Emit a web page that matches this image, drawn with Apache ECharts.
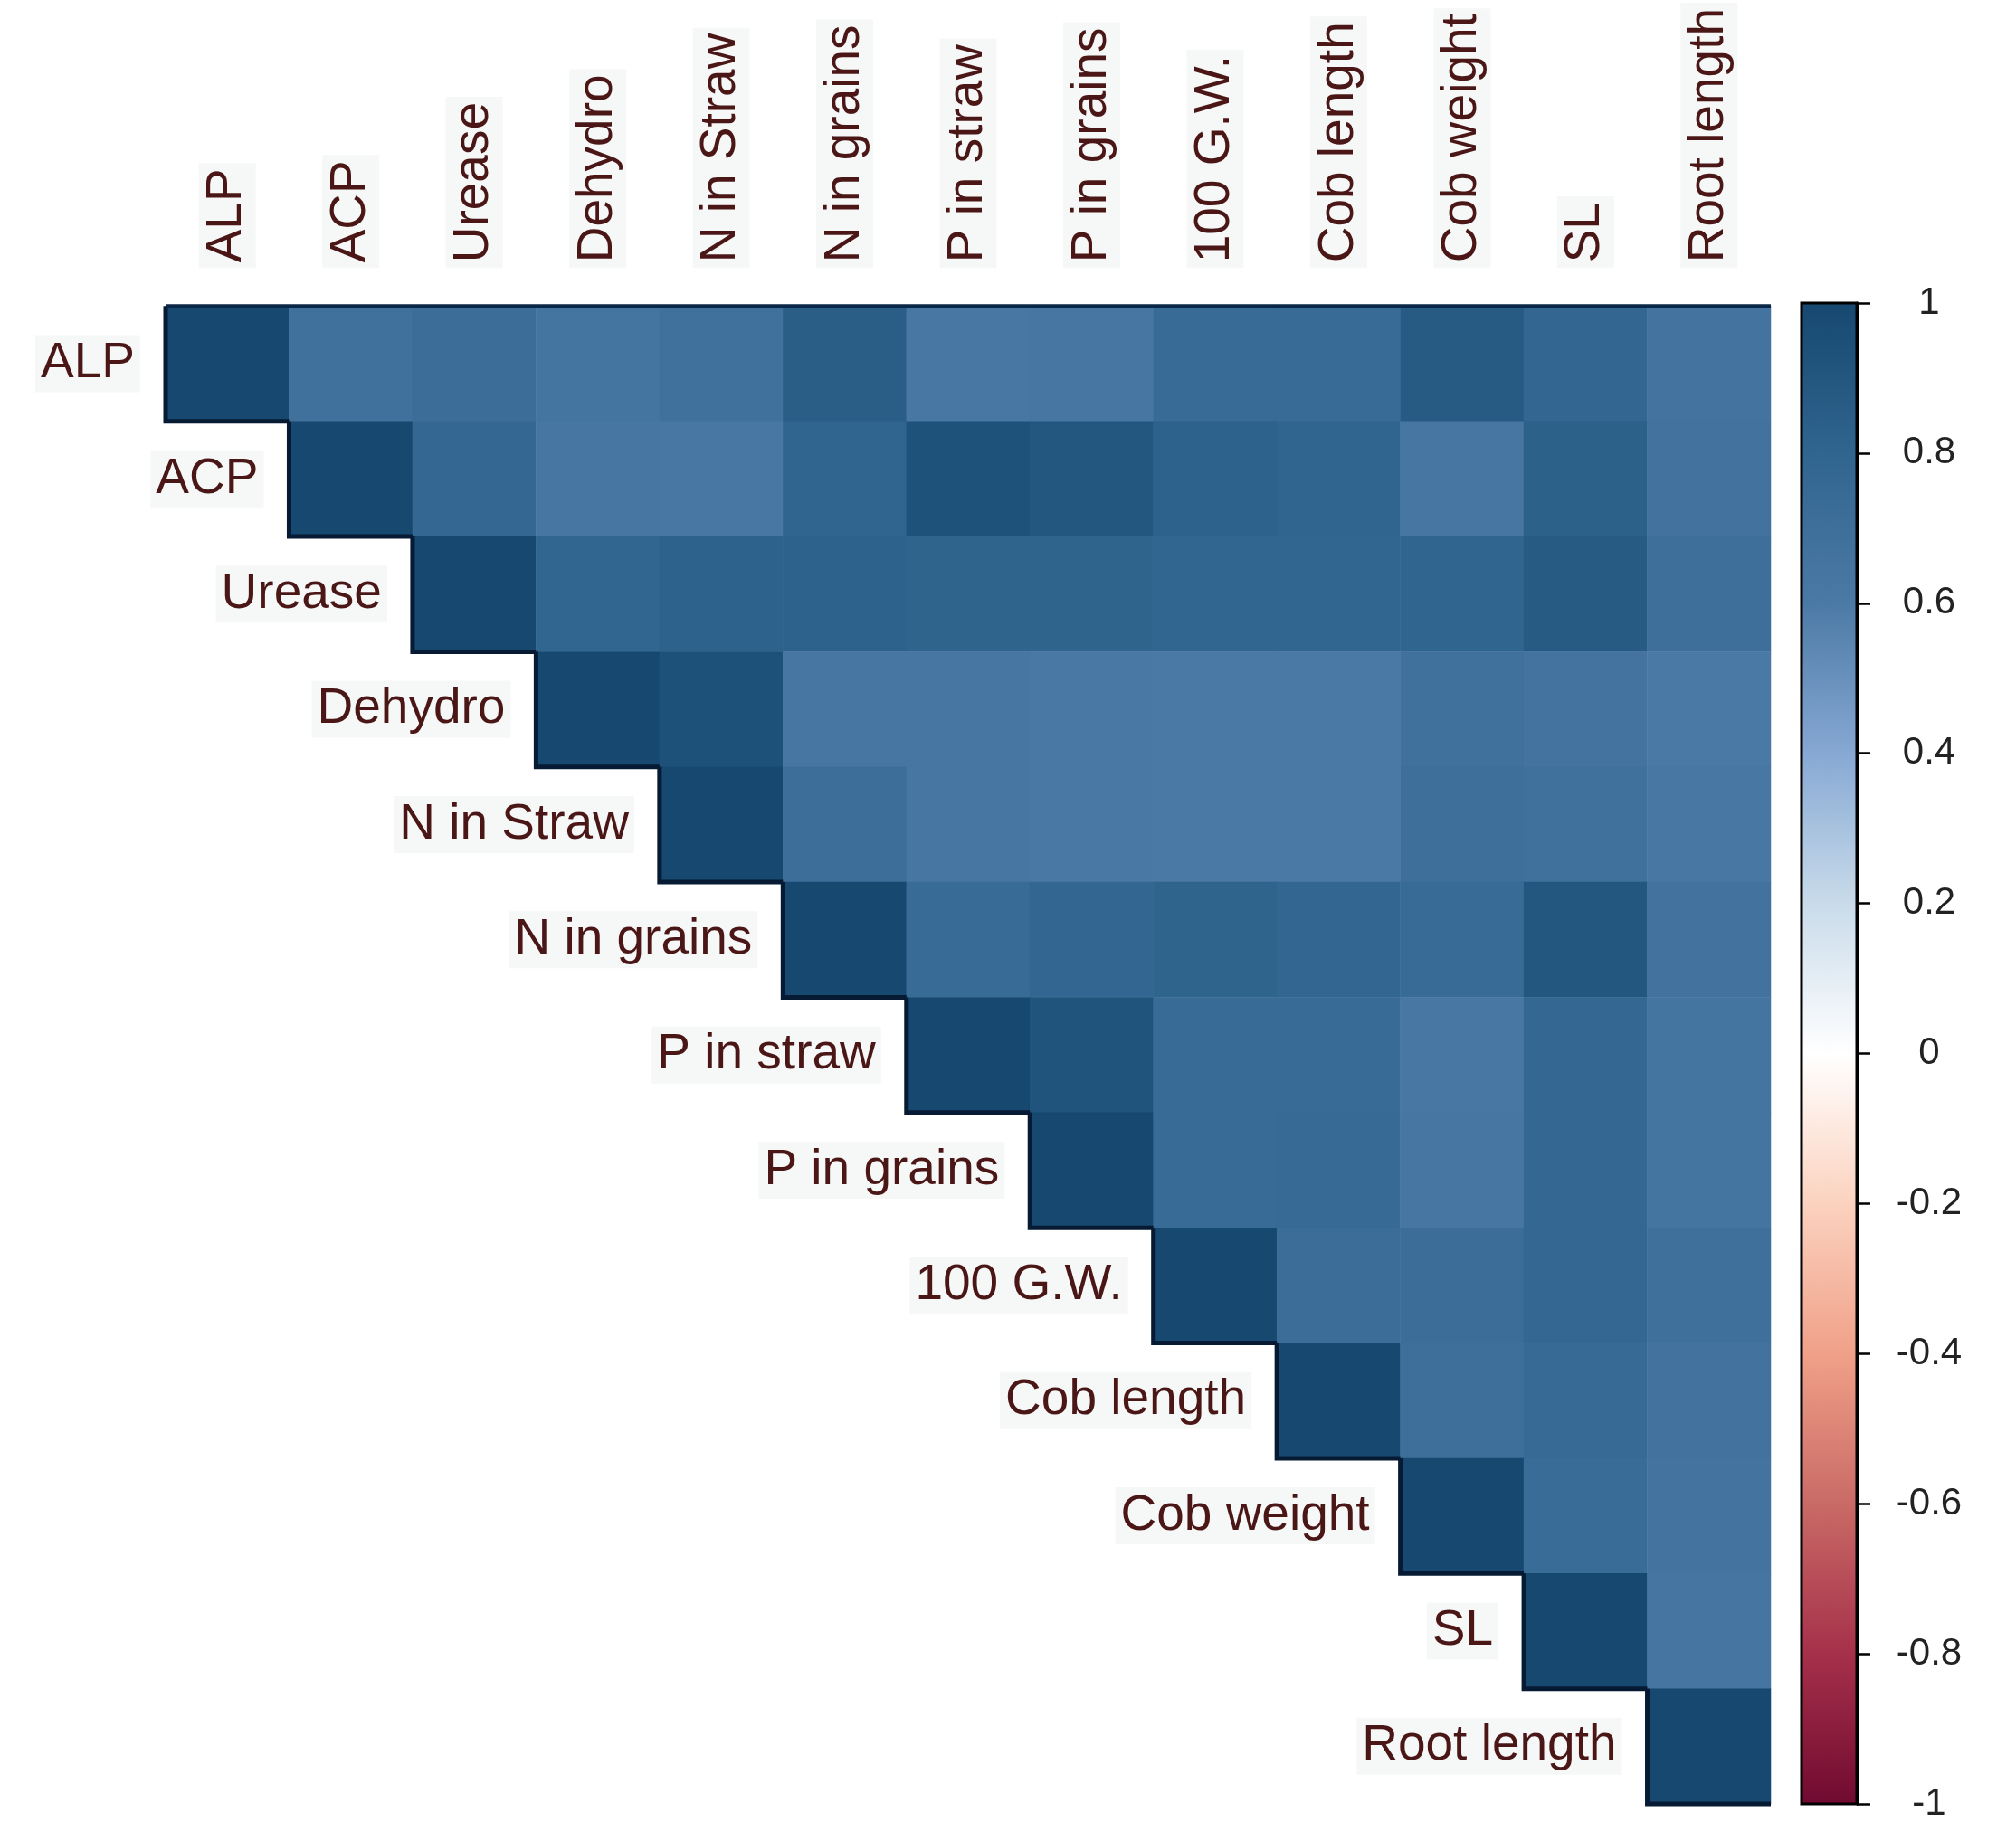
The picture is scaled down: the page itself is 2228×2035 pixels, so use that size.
<!DOCTYPE html>
<html>
<head>
<meta charset="utf-8">
<script src="https://cdn.jsdelivr.net/npm/echarts@6/dist/echarts.min.js"></script>
<style>
  html, body { margin: 0; padding: 0; background: #fff; }
  #chart { width: 2228px; height: 2035px; }
</style>
</head>
<body>
<div id="chart"></div>
<script>
var myChart = echarts.init(document.getElementById('chart'));

// variable names, same order for rows and columns
var vars = ['ALP', 'ACP', 'Urease', 'Dehydro', 'N in Straw', 'N in grains', 'P in straw',
            'P in grains', '100 G.W.', 'Cob length', 'Cob weight', 'SL', 'Root length'];

// upper triangle, each row starts at the diagonal
var rALP      = [1, 0.68, 0.72, 0.65, 0.68, 0.85, 0.62, 0.63, 0.74, 0.74, 0.87, 0.78, 0.66];
var rACP      = [1, 0.77, 0.63, 0.62, 0.80, 0.93, 0.90, 0.82, 0.80, 0.63, 0.83, 0.67];
var rUrease   = [1, 0.79, 0.82, 0.82, 0.81, 0.81, 0.79, 0.79, 0.80, 0.87, 0.70];
var rDehydro  = [1, 0.94, 0.63, 0.63, 0.61, 0.60, 0.60, 0.68, 0.66, 0.60];
var rNStraw   = [1, 0.71, 0.63, 0.61, 0.60, 0.60, 0.70, 0.68, 0.62];
var rNGrains  = [1, 0.74, 0.78, 0.81, 0.78, 0.74, 0.90, 0.67];
var rPStraw   = [1, 0.92, 0.74, 0.74, 0.62, 0.77, 0.65];
var rPGrains  = [1, 0.74, 0.75, 0.63, 0.77, 0.65];
var rGW       = [1, 0.72, 0.72, 0.77, 0.69];
var rCobLen   = [1, 0.70, 0.75, 0.67];
var rCobWt    = [1, 0.73, 0.66];
var rSL       = [1, 0.64];
var rRoot     = [1];

var rows = [rALP, rACP, rUrease, rDehydro, rNStraw, rNGrains, rPStraw,
            rPGrains, rGW, rCobLen, rCobWt, rSL, rRoot];

// colour scale from -1 to 1
var palette = ['#700a30', '#a5304a', '#c96a66', '#f0a088', '#fbd2bf', '#ffffff',
               '#c9dbea', '#86a8d3', '#4b79a5', '#30658f', '#164870'];
var cbMin = -1, cbMax = 1, cbStep = 0.2;

var font = "'Liberation Sans', Arial, sans-serif";
var labelCol = '#4a1616';
var labelBg = '#f6f7f7';

var cells = [];
rows.forEach(function (row, i) {
    row.forEach(function (v, k) {
        cells.push([i + k, i, v]);
    });
});

var diag = vars.map(function (name, i) { return [i, i, name]; });

var gradStops = palette.map(function (c, i) {
    return { offset: 1 - i / (palette.length - 1), color: c };
});

var option = {
    animation: false,
    backgroundColor: '#fff',
    grid: [
        { left: 183, top: 335, width: 1774, height: 1659 },
        { left: 1991, top: 335, width: 61, height: 1659 }
    ],
    xAxis: [
        {
            type: 'category', data: vars, position: 'top', gridIndex: 0,
            axisLine: { show: false }, axisTick: { show: false },
            splitLine: { show: false },
            axisLabel: {
                rotate: -90, margin: 42, interval: 0,
                fontFamily: font, fontSize: 55, color: labelCol,
                backgroundColor: labelBg, padding: [4, 6, 4, 6]
            }
        },
        {
            type: 'category', data: [''], gridIndex: 1,
            axisLine: { show: false }, axisTick: { show: false },
            axisLabel: { show: false }
        }
    ],
    yAxis: [
        {
            type: 'category', data: vars, inverse: true, gridIndex: 0,
            axisLine: { show: false }, axisTick: { show: false },
            axisLabel: { show: false }, splitLine: { show: false }
        },
        {
            type: 'value', gridIndex: 1, position: 'right',
            min: cbMin, max: cbMax, interval: cbStep,
            axisLine: { show: true, lineStyle: { color: '#000', width: 3 } },
            axisTick: { show: true, length: 15, lineStyle: { color: '#000', width: 2.5 } },
            splitLine: { show: false },
            axisLabel: {
                margin: 80, align: 'center',
                fontFamily: font, fontSize: 42, color: '#222',
                formatter: function (v) { return String(Math.round(v * 10) / 10); }
            }
        }
    ],
    visualMap: {
        show: false, type: 'continuous', seriesIndex: 0, dimension: 2,
        min: cbMin, max: cbMax,
        inRange: { color: palette }
    },
    series: [
        {
            type: 'heatmap',
            xAxisIndex: 0, yAxisIndex: 0,
            data: cells,
            itemStyle: { borderWidth: 0 }
        },
        {
            // dark edge along the diagonal and the row labels beside it
            type: 'custom',
            xAxisIndex: 0, yAxisIndex: 0,
            data: diag,
            z: 5,
            renderItem: function (params, api) {
                var i = api.value(0);
                var p = api.coord([i, i]);
                var s = api.size([1, 1]);
                var x0 = p[0] - s[0] / 2, y0 = p[1] - s[1] / 2;
                var kids = [
                    {
                        type: 'polyline',
                        shape: { points: [[x0, y0], [x0, y0 + s[1]], [x0 + s[0], y0 + s[1]]] },
                        style: { stroke: '#071a33', lineWidth: 5, fill: null }
                    },
                    {
                        type: 'text',
                        style: {
                            x: x0 - 28, y: p[1],
                            text: vars[i],
                            align: 'right', verticalAlign: 'middle',
                            font: '55px ' + font, fill: labelCol,
                            backgroundColor: labelBg, padding: [4, 6, 4, 6]
                        }
                    }
                ];
                if (i === 0) {
                    kids.push({
                        type: 'line',
                        shape: { x1: x0, y1: y0, x2: x0 + s[0] * vars.length, y2: y0 },
                        style: { stroke: '#0b2748', lineWidth: 4 }
                    });
                }
                return { type: 'group', children: kids };
            }
        },
        {
            // colour bar
            type: 'custom',
            xAxisIndex: 1, yAxisIndex: 1,
            data: [[0, cbMin, cbMax]],
            renderItem: function (params, api) {
                var top = api.coord([0, api.value(2)]);
                var bot = api.coord([0, api.value(1)]);
                var w = api.size([1, 0])[0];
                return {
                    type: 'rect',
                    shape: { x: top[0] - w / 2, y: top[1], width: w, height: bot[1] - top[1] },
                    style: {
                        fill: new echarts.graphic.LinearGradient(0, 0, 0, 1, gradStops.slice().reverse()),
                        stroke: '#000', lineWidth: 3
                    }
                };
            }
        }
    ]
};

myChart.setOption(option);
</script>
</body>
</html>
